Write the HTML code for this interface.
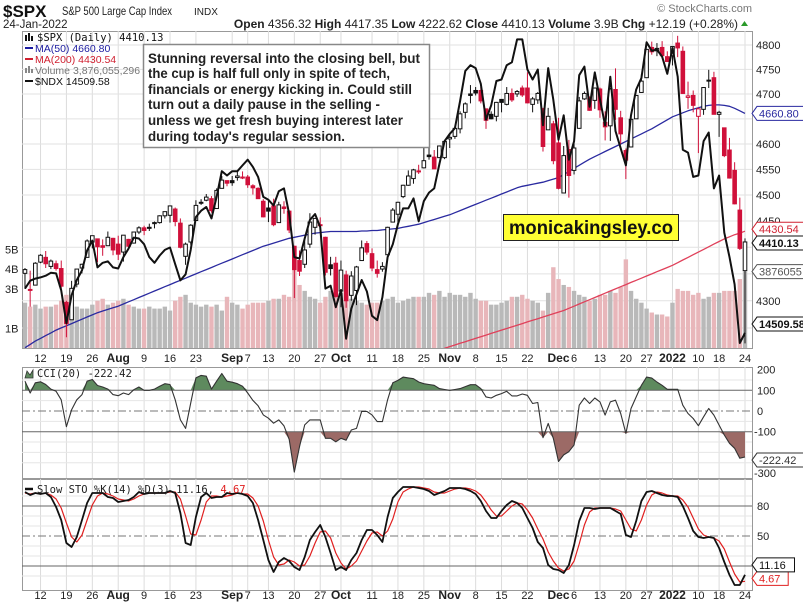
<!DOCTYPE html>
<html><head><meta charset="utf-8">
<style>
html,body{margin:0;padding:0;background:#fff;}
svg{display:block;font-family:"Liberation Sans",Arial,sans-serif;}
</style></head>
<body>
<svg id="c" width="803" height="609" xmlns="http://www.w3.org/2000/svg">
<rect x="0" y="0" width="803" height="609" fill="#fff"/>
<g>
<text x="3" y="17" font-size="17" font-weight="bold" fill="#111">$SPX</text>
<text x="62" y="15" font-size="12" fill="#222" textLength="110" lengthAdjust="spacingAndGlyphs">S&amp;P 500 Large Cap Index</text>
<text x="194" y="15" font-size="10" fill="#222">INDX</text>
<text x="3" y="28" font-size="11.5" fill="#222">24-Jan-2022</text>
<text x="752" y="12" font-size="11" fill="#777" text-anchor="end">© StockCharts.com</text>
<text x="738" y="28" font-size="12" fill="#222" text-anchor="end"><tspan font-weight="bold">Open</tspan> 4356.32 <tspan font-weight="bold">High</tspan> 4417.35 <tspan font-weight="bold">Low</tspan> 4222.62 <tspan font-weight="bold">Close</tspan> 4410.13 <tspan font-weight="bold">Volume</tspan> 3.9B <tspan font-weight="bold">Chg</tspan> +12.19 (+0.28%)</text>
<polygon points="741,26 748,26 744.5,21" fill="#2a9a2a"/>
</g>
<g id="grid"></g>
<g id="vol"></g>
<g id="ma"></g>
<g id="candles"></g>
<g id="ndx"></g>
<g id="cci"></g>
<g id="sto"></g>
<g id="axes"></g>
<g>
<rect x="25" y="35" width="2" height="6" fill="#111"/><rect x="28" y="33" width="2" height="8" fill="#111"/><rect x="31" y="36" width="2" height="5" fill="#111"/>
<text x="37" y="41" font-size="10.5" font-family="'DejaVu Sans Mono',monospace" fill="#111">$SPX (Daily) 4410.13</text>
<line x1="25" y1="48" x2="33" y2="48" stroke="#1a1aa0" stroke-width="2"/>
<text x="35" y="52" font-size="10.5" fill="#1a1aa0">MA(50) 4660.80</text>
<line x1="25" y1="59" x2="33" y2="59" stroke="#d02030" stroke-width="2"/>
<text x="35" y="63" font-size="10.5" fill="#d02030">MA(200) 4430.54</text>
<rect x="25" y="68" width="2" height="5" fill="#888"/><rect x="28" y="66" width="2" height="7" fill="#888"/><rect x="31" y="69" width="2" height="4" fill="#888"/>
<text x="35" y="74" font-size="10.5" fill="#777">Volume 3,876,055,296</text>
<line x1="25" y1="81" x2="33" y2="81" stroke="#111" stroke-width="2"/>
<text x="35" y="85" font-size="10.5" fill="#111">$NDX 14509.58</text>
</g>
<g>
<rect x="143.5" y="44.5" width="286" height="103" fill="#fff" stroke="#888" stroke-width="1.5"/>
<g font-size="14" font-weight="bold" fill="#222">
<text x="148" y="63" textLength="272" lengthAdjust="spacingAndGlyphs">Stunning reversal into the closing bell, but</text>
<text x="148" y="78" textLength="242" lengthAdjust="spacingAndGlyphs">the cup is half full only in spite of tech,</text>
<text x="148" y="94" textLength="264" lengthAdjust="spacingAndGlyphs">financials or energy kicking in. Could still</text>
<text x="148" y="109" textLength="232" lengthAdjust="spacingAndGlyphs">turn out a daily pause in the selling -</text>
<text x="148" y="125" textLength="255" lengthAdjust="spacingAndGlyphs">unless we get fresh buying interest later</text>
<text x="148" y="141" textLength="197" lengthAdjust="spacingAndGlyphs">during today's regular session.</text>
</g>
</g>
<g>
<rect x="503.5" y="214.5" width="175" height="26" fill="#ffff33" stroke="#222" stroke-width="1"/>
<text x="591" y="234" font-size="19" font-weight="bold" fill="#111" text-anchor="middle" textLength="164" lengthAdjust="spacingAndGlyphs">monicakingsley.co</text>
</g>
<g id="tags"></g>
</svg>
<script>
// ---------- DATA ----------
const closes = [4358,4320,4370,4385,4369,4374,4360,4327,4258,4323,4359,4368,4412,4422,4401,4400,4419,4395,
4387,4423,4402,4429,4437,4432,4436,4447,4460,4468,4479,4449,4400,4406,4442,4480,4486,4496,4470,4509,4529,4523,
4524,4537,4535,4520,4514,4493,4458,4469,4443,4481,4474,4433,4358,4355,4395,4448,4455,4443,4353,4360,4308,
4357,4300,4346,4363,4399,4391,4361,4351,4364,4438,4471,4486,4519,4537,4549,4545,4567,4575,4551,4596,4605,
4613,4631,4660,4680,4697,4702,4686,4647,4650,4683,4683,4701,4688,4705,4698,4682,4690,4701,4595,4655,4567,
4513,4577,4538,4592,4686,4701,4667,4712,4668,4634,4710,4669,4620,4568,4649,4697,4726,4791,4786,4793,4778,4766,
4797,4794,4701,4696,4677,4670,4713,4726,4659,4663,4577,4533,4483,4398,4410.13];
const opens = [4351,4321,4329,4372,4381,4364,4369,4360,4297,4265,4331,4361,4381,4410,4416,4403,4403,4417,
4406,4391,4415,4408,4429,4437,4438,4445,4447,4460,4461,4473,4446,4383,4410,4451,4486,4490,4493,4474,4513,4528,
4528,4534,4533,4535,4518,4513,4488,4475,4479,4447,4477,4469,4402,4375,4368,4406,4438,4442,4419,4367,4370,
4318,4348,4310,4319,4375,4407,4388,4358,4359,4386,4448,4463,4497,4519,4532,4547,4553,4578,4574,4573,4573,
4610,4615,4630,4663,4700,4707,4707,4670,4659,4655,4689,4679,4701,4700,4712,4712,4679,4688,4664,4628,4640,
4602,4504,4589,4548,4631,4690,4691,4687,4710,4643,4636,4709,4652,4587,4594,4650,4703,4733,4795,4788,4795,4776,
4778,4804,4787,4693,4697,4655,4669,4728,4733,4659,4632,4588,4548,4471,4356];
const highs = [4361,4356,4372,4387,4393,4377,4375,4375,4300,4337,4359,4369,4415,4422,4416,4415,4430,4418,
4422,4423,4416,4429,4440,4441,4445,4449,4461,4468,4480,4476,4455,4409,4444,4490,4492,4502,4498,4513,4537,4528,
4537,4545,4546,4539,4521,4515,4492,4489,4493,4487,4488,4471,4403,4394,4416,4465,4455,4457,4420,4382,4382,
4375,4356,4355,4365,4413,4412,4398,4375,4372,4439,4475,4487,4520,4548,4551,4559,4599,4598,4588,4597,4608,
4620,4635,4665,4683,4718,4714,4714,4670,4665,4684,4689,4714,4711,4708,4717,4744,4694,4704,4672,4672,4646,
4652,4596,4608,4612,4694,4705,4695,4713,4713,4665,4712,4752,4666,4591,4650,4697,4740,4791,4807,4804,4808,4787,
4796,4819,4797,4725,4707,4673,4714,4749,4745,4666,4632,4612,4564,4495,4417];
const lows = [4322,4289,4329,4370,4361,4359,4356,4320,4233,4265,4325,4351,4381,4398,4372,4384,4403,4385,
4376,4373,4400,4407,4425,4423,4431,4436,4445,4455,4447,4440,4398,4367,4405,4451,4481,4488,4466,4474,4513,4517,
4518,4528,4531,4514,4501,4493,4457,4448,4440,4447,4464,4427,4305,4346,4361,4399,4424,4436,4347,4347,4306,
4288,4287,4300,4292,4375,4386,4355,4343,4354,4386,4448,4447,4494,4518,4522,4541,4552,4569,4551,4573,4570,
4592,4610,4621,4651,4681,4697,4681,4630,4649,4645,4663,4677,4684,4694,4694,4681,4663,4680,4585,4628,4560,
4511,4504,4495,4540,4630,4688,4666,4670,4652,4607,4606,4648,4600,4531,4594,4650,4703,4733,4780,4777,4776,4765,
4758,4775,4700,4670,4663,4582,4658,4712,4660,4614,4574,4532,4482,4395,4222];
const volumesB = [2.3,2.1,2.2,2.0,2.1,2.1,2.2,2.4,2.7,2.3,2.1,2.0,2.0,2.2,2.4,2.5,2.2,2.3,
2.4,2.5,2.2,2.1,2.0,2.0,2.1,2.0,2.0,2.1,1.9,2.4,2.6,2.7,2.3,2.2,2.1,2.2,2.1,2.2,1.9,2.6,
2.3,2.2,2.0,2.2,2.3,2.3,2.3,2.4,2.5,2.5,2.7,2.6,5.0,3.2,2.9,2.6,2.5,2.3,2.6,2.9,3.1,
2.8,2.6,2.5,2.4,2.3,2.2,2.3,2.3,2.4,2.5,2.6,2.3,2.4,2.5,2.6,2.6,2.6,2.8,2.7,2.9,2.6,
2.8,2.7,2.7,2.6,2.8,2.5,2.4,2.4,2.2,2.2,2.3,2.4,2.6,2.6,2.7,2.5,2.4,2.3,1.9,2.8,4.1,
3.5,3.2,3.1,2.9,2.7,2.6,2.4,2.5,2.7,2.7,2.9,2.8,3.1,4.5,2.9,2.5,2.3,2.0,1.8,1.7,1.7,1.6,
2.3,3.0,2.9,2.9,2.7,2.8,2.5,2.6,2.8,2.8,2.9,2.9,2.9,3.5,3.88];
const ma50 = [4214,4220,4226,4231,4236,4241,4246,4250,4254,4258,4262,4266,4270,4274,4278,4281,4284,4287,
4290,4294,4298,4302,4306,4310,4314,4318,4322,4326,4330,4334,4338,4342,4346,4350,4354,4358,4362,4366,4370,4374,
4378,4382,4386,4390,4394,4398,4402,4405,4408,4411,4414,4417,4419,4421,4423,4425,4427,4428,4429,4430,4430,
4430,4430,4430,4430,4431,4431,4432,4432,4433,4434,4435,4436,4438,4440,4442,4444,4447,4450,4453,4456,4459,
4462,4466,4470,4474,4478,4482,4486,4490,4494,4498,4502,4506,4510,4514,4517,4519,4521,4523,4525,4528,4531,
4534,4540,4546,4552,4558,4564,4570,4575,4580,4585,4590,4595,4600,4605,4610,4615,4620,4625,4630,4636,4642,4648,
4654,4658,4662,4666,4669,4672,4675,4677,4678,4678,4677,4675,4671,4666,4660.8];
const ma200 = [null,null,null,null,null,null,null,null,null,null,null,null,null,null,null,null,null,null,
null,null,null,null,null,null,null,null,null,null,null,null,null,null,null,null,null,null,null,null,null,null,
null,null,null,null,null,null,null,null,null,null,null,null,null,null,null,null,null,null,null,null,null,
null,null,null,null,null,null,null,null,null,null,null,null,null,null,null,null,null,null,4205,4209,4213,
4216,4219,4222,4225,4228,4231,4234,4237,4240,4243,4246,4249,4252,4255,4258,4261,4264,4267,4270,4273,4276,
4279,4282,4286,4290,4294,4298,4302,4306,4310,4314,4318,4322,4326,4330,4334,4338,4342,4346,4350,4354,4358,4362,
4366,4371,4376,4381,4386,4391,4396,4401,4406,4411,4416,4420,4424,4427,4430.54];
const ndx = [14820,14875,14890,14898,14910,14930,14926,14808,14579,14773,14880,14947,15086,15155,14968,15000,15010,14968,
14960,15040,15100,15176,15170,15130,15040,15000,15051,15090,15107,14990,14877,14920,15090,15320,15364,15390,15310,15460,15640,15610,
15640,15640,15680,15720,15670,15600,15460,15440,15400,15500,15520,15340,15040,15030,15170,15300,15340,15250,14820,14840,14690,
14810,14470,14680,14780,14880,14800,14630,14600,14760,15040,15130,15270,15380,15380,15450,15290,15430,15490,15520,15690,15850,
15900,15940,16130,16340,16380,16360,16250,16000,16100,16270,16280,16380,16400,16560,16560,16350,16280,16350,15960,16360,16140,
15860,16030,15720,15850,16310,16370,16090,16330,16140,15960,16300,15920,15800,15680,16030,16210,16290,16540,16480,16490,16440,16320,
16500,16300,15790,15770,15600,15610,15850,15910,15520,15610,15210,15040,14850,14440,14509.58];
const cci = [144,87,136,141,128,106,95,54,-76,6,54,79,144,152,123,116,106,79,
74,87,79,103,116,100,100,106,120,132,128,54,-43,-84,38,160,172,168,106,144,181,144,
139,132,120,87,51,25,-19,-35,-59,-43,-72,-137,-295,-173,-67,-43,-43,-43,-132,-132,-149,
-132,-141,-92,-84,-2,-2,-19,-51,-51,54,136,148,164,160,156,140,132,128,124,108,104,
100,104,108,118,127,127,108,68,63,76,84,95,73,73,82,76,36,41,-129,-60,-132,
-244,-212,-196,-164,28,63,36,63,44,-20,44,52,-12,-108,12,68,124,164,159,140,124,105,
105,105,28,-12,-36,-71,-28,12,-20,-68,-116,-156,-180,-228,-222.42];
const stoK = [94,91,93,92,93,89,79,66,43,39,49,66,83,93,93,93,89,88,84,85,86,89,94,92,93,93,93,93,95,93,73,43,41,69,89,93,88,89,89,93,
92,93,92,90,83,66,46,26,14,24,28,25,19,16,29,46,54,61,49,33,16,19,16,26,33,46,56,56,51,44,69,88,94,99,99,99,98,97,95,91,93,95,
98,98,98,97,95,92,85,75,68,68,75,81,85,83,78,68,58,44,38,21,17,16,13,21,41,65,78,78,77,78,78,78,75,72,51,49,65,85,94,95,93,91,90,
90,89,80,68,55,49,48,49,48,38,24,11,1,1,11.16];
const stoD = [93,92,93,92,93,91,87,78,63,49,44,51,66,81,90,93,92,90,87,86,85,87,90,92,93,93,93,93,94,94,87,70,52,51,66,84,90,90,89,90,
91,93,92,92,88,80,65,46,29,21,22,26,24,20,21,30,43,54,55,48,33,23,17,20,25,35,45,53,54,50,55,67,84,94,97,99,99,98,97,94,93,93,
95,97,98,98,97,95,91,84,76,70,70,75,80,83,82,76,68,57,47,34,25,18,15,17,25,42,61,74,78,78,78,78,77,75,66,57,55,66,81,91,94,93,91,
90,90,86,79,68,57,51,49,48,45,37,24,12,4,4.67];
const tickIdx = [3,8,13,18,23,28,33,40,43,47,52,57,61,67,72,77,82,87,92,97,103,106,111,116,120,125,130,134,139];
const tickLabels = ["12","19","26","Aug","9","16","23","Sep","7","13","20","27","Oct","11","18","25","Nov","8","15","22","Dec","6","13","20","27","2022","10","18","24"];
const boldTicks = ["Aug","Sep","Oct","Nov","Dec","2022"];
const priceTicks = [4800,4750,4700,4650,4600,4550,4500,4450,4400,4350,4300,4250];
const priceTickShown = [4800,4750,4700,4600,4550,4500,4450,4300];
const volTicks = [5,4,3,1];
const cciTicks = [200,100,0,-100,-300];
const stoTicks = [80,50,20];

// ---------- SCALES ----------
const NS="http://www.w3.org/2000/svg";
const L=22, R=752;
const N=closes.length;
const step=5.18;
const x=i=>745-(N-1-i)*step;
const yP=p=>45+2325*Math.log(4800/p);
const yV=v=>348-v*19.7;
const yN=v=>343-(v-14440)*(305/(16570-14440));
const yC=v=>411-v*0.207;
const yS=v=>586-v*1.0;
const MT=31,MB=348,CT=367,CB=478,ST=479,SB=590;
function mk(tag,attrs,parent){const e=document.createElementNS(NS,tag);for(const k in attrs)e.setAttribute(k,attrs[k]);parent.appendChild(e);return e;}
const G=id=>document.getElementById(id);

// ---------- GRID & PANELS ----------
const grid=G('grid');
[[MT,MB],[CT,CB],[ST,SB]].forEach((p,k)=>{
  const r=mk('rect',{x:L+.5,y:p[0]+.5,width:R-L,height:p[1]-p[0],fill:'#fff',stroke:'#999'},grid);
  
  
});
tickIdx.forEach(i=>{
  [[MT,MB],[CT,CB],[ST,SB]].forEach(p=>{
    const l=mk('line',{x1:x(i),x2:x(i),y1:p[0],y2:p[1],stroke:'#dcdcdc'},grid);
    
    
  });
});
priceTicks.forEach(p=>{
  const l=mk('line',{x1:L,x2:R,y1:yP(p),y2:yP(p),stroke:'#e2e2e2'},grid);
  
  
});
[150,50,-50,-150,-200,-250].forEach(v=>{
  const l=mk('line',{x1:L,x2:R,y1:yC(v),y2:yC(v),stroke:'#e6e6e6'},grid);
  
  
});
[90,70,60,40,30,10].forEach(v=>{
  const l=mk('line',{x1:L,x2:R,y1:yS(v),y2:yS(v),stroke:'#e6e6e6'},grid);
  
  
});

// ---------- VOLUME ----------
const vol=G('vol');
for(let i=0;i<N;i++){
  const down=i>0&&closes[i]<closes[i-1];
  const b=mk('rect',{x:x(i)-2.2,y:yV(volumesB[i]),width:4.4,height:MB-yV(volumesB[i]),fill:down?'#e8b6ba':'#b9b9b9'},vol);
  
  
}

// ---------- MOVING AVERAGES ----------
const ma=G('ma');
function line(arr,yf,color,w,parent,name){
  let d='';arr.forEach((v,i)=>{if(v==null)return;d+=(d?'L':'M')+x(i).toFixed(1)+','+yf(v).toFixed(1);});
  const p=mk('path',{d:d,fill:'none',stroke:color,'stroke-width':w,'stroke-linejoin':'round'},parent);
  
  
  return p;
}
const clip=mk('clipPath',{id:'mclip'},G('c'));
mk('rect',{x:L,y:MT,width:R-L,height:MB-MT},clip);
ma.setAttribute('clip-path','url(#mclip)');
line(ma50,yP,'#2a2aa0',1.3,ma,'ma50-line');
line(ma200,yP,'#e0405a',1.3,ma,'ma200-line');

// ---------- CANDLES ----------
const cg=G('candles');
for(let i=0;i<N;i++){
  const o=opens[i],c=closes[i],h=highs[i],l=lows[i];
  const red=i>0&&c<closes[i-1];
  const col=red?'#d0103a':'#111';
  const wk=mk('line',{x1:x(i),x2:x(i),y1:yP(h),y2:yP(l),stroke:col,'stroke-width':1},cg);
  
  
  const top=Math.min(yP(o),yP(c)),bh=Math.max(1,Math.abs(yP(o)-yP(c)));
  const filled=c<o;
  const bd=mk('rect',{x:x(i)-1.8,y:top,width:3.6,height:bh,fill:filled?col:'#fff',stroke:col,'stroke-width':1},cg);
  
  
}

// ---------- NDX ----------
line(ndx,yN,'#111',2,G('ndx'),'ndx-line');

// ---------- CCI ----------
const cg2=G('cci');
const cclip=mk('clipPath',{id:'cclip'},G('c'));
mk('rect',{x:L,y:CT,width:R-L,height:CB-CT},cclip);
cg2.setAttribute('clip-path','url(#cclip)');
function fillArea(arr,yf,lvl,above,color,parent,name){
  let d='M'+x(0)+','+yf(lvl);
  arr.forEach((v,i)=>{const vv=above?Math.max(v,lvl):Math.min(v,lvl);d+='L'+x(i).toFixed(1)+','+yf(vv).toFixed(1);});
  d+='L'+x(arr.length-1)+','+yf(lvl)+'Z';
  const p=mk('path',{d:d,fill:color,stroke:'none'},parent);
  
  
}
fillArea(cci,yC,100,true,'#5e8a5e',cg2,'cci-overbought-fill');
fillArea(cci,yC,-100,false,'#9c6a66',cg2,'cci-oversold-fill');
[100,-100].forEach(v=>{const l=mk('line',{x1:L,x2:R,y1:yC(v),y2:yC(v),stroke:'#666','stroke-width':1},cg2);
  
  });
const z=mk('line',{x1:L,x2:R,y1:yC(0),y2:yC(0),stroke:'#777','stroke-dasharray':'8,3,2,3'},cg2);


line(cci,yC,'#333',1.1,cg2,'cci-line');

// ---------- STO ----------
const sg=G('sto');
[80,20].forEach(v=>{const l=mk('line',{x1:L,x2:R,y1:yS(v),y2:yS(v),stroke:'#666'},sg);
  
  });
const m50=mk('line',{x1:L,x2:R,y1:yS(50),y2:yS(50),stroke:'#777','stroke-dasharray':'8,3,2,3'},sg);


line(stoD,yS,'#e02020',1.2,sg,'sto-d-line');
line(stoK,yS,'#111',1.8,sg,'sto-k-line');

// ---------- AXES ----------
const ax=G('axes');
function txt(s,xx,yy,attrs,parent,name){const t=mk('text',Object.assign({x:xx,y:yy,'font-size':11,fill:'#222'},attrs),parent);t.textContent=s;
  
  return t;}
tickIdx.forEach((i,k)=>{
  const b=boldTicks.includes(tickLabels[k]);
  [362,599].forEach(yy=>{txt(tickLabels[k],x(i),yy,{'text-anchor':'middle','font-weight':b?'bold':'normal','font-size':b?12:11},ax,'date-tick-label');});
});
priceTickShown.forEach(p=>txt(String(p),756,yP(p)+4,{},ax,'price-tick-label'));
volTicks.forEach(v=>txt(v+'B',5,yV(v)+4,{},ax,'volume-tick-label'));
cciTicks.forEach(v=>txt(String(v),v<0?754:757,yC(v)+4,{},ax,'cci-tick-label'));
stoTicks.forEach(v=>txt(String(v),757,yS(v)+4,{},ax,'sto-tick-label'));
const ci=mk('path',{d:'M25,378 L27,371 L30,375 L33,370 L33,378 Z',fill:'#5e8a5e',stroke:'#333','stroke-width':0.8},ax);


txt('CCI(20) -222.42',37,377,{'font-size':10.5,'font-family':"'DejaVu Sans Mono',monospace"},ax,'cci-legend');
const sli=mk('line',{x1:25,x2:33,y1:489,y2:489,stroke:'#111','stroke-width':2.5},ax);


const sl=txt('',37,493,{'font-size':10.5,'font-family':"'DejaVu Sans Mono',monospace"},ax,'sto-legend');
sl.innerHTML='<tspan>Slow STO %K(14) %D(3) 11.16, </tspan><tspan fill="#e02020">4.67</tspan>';

// ---------- VALUE TAGS ----------
const tg=G('tags');
function tag(s,yy,color,bold,name,fillc){
  const w=s.length*6.3+6;
  const p=mk('polygon',{points:`752,${yy} 757,${yy-7} ${757+w},${yy-7} ${757+w},${yy+7} 757,${yy+7}`,fill:fillc||'#fff',stroke:color,'stroke-width':1},tg);
  
  
  txt(s,759,yy+4,{fill:bold?'#111':color,'font-weight':bold?'bold':'normal'},tg,name);
}
tag('4660.80',yP(ma50[N-1]),'#2a2aa0',false,'ma50-tag');
tag('4430.54',yP(ma200[N-1])-2,'#d02030',false,'ma200-tag');
tag('4410.13',yP(closes[N-1])+1,'#111',true,'close-tag');
tag('3876055',yV(volumesB[N-1]),'#555',false,'volume-tag');
tag('14509.58',yN(ndx[N-1])-9,'#111',true,'ndx-tag');
tag('-222.42',yC(cci[N-1])+3,'#333',false,'cci-tag');
tag('4.67',yS(stoD[N-1])-3,'#e02020',false,'sto-d-tag');
tag('11.16',yS(stoK[N-1])-10,'#111',false,'sto-k-tag');
</script>
</body></html>
